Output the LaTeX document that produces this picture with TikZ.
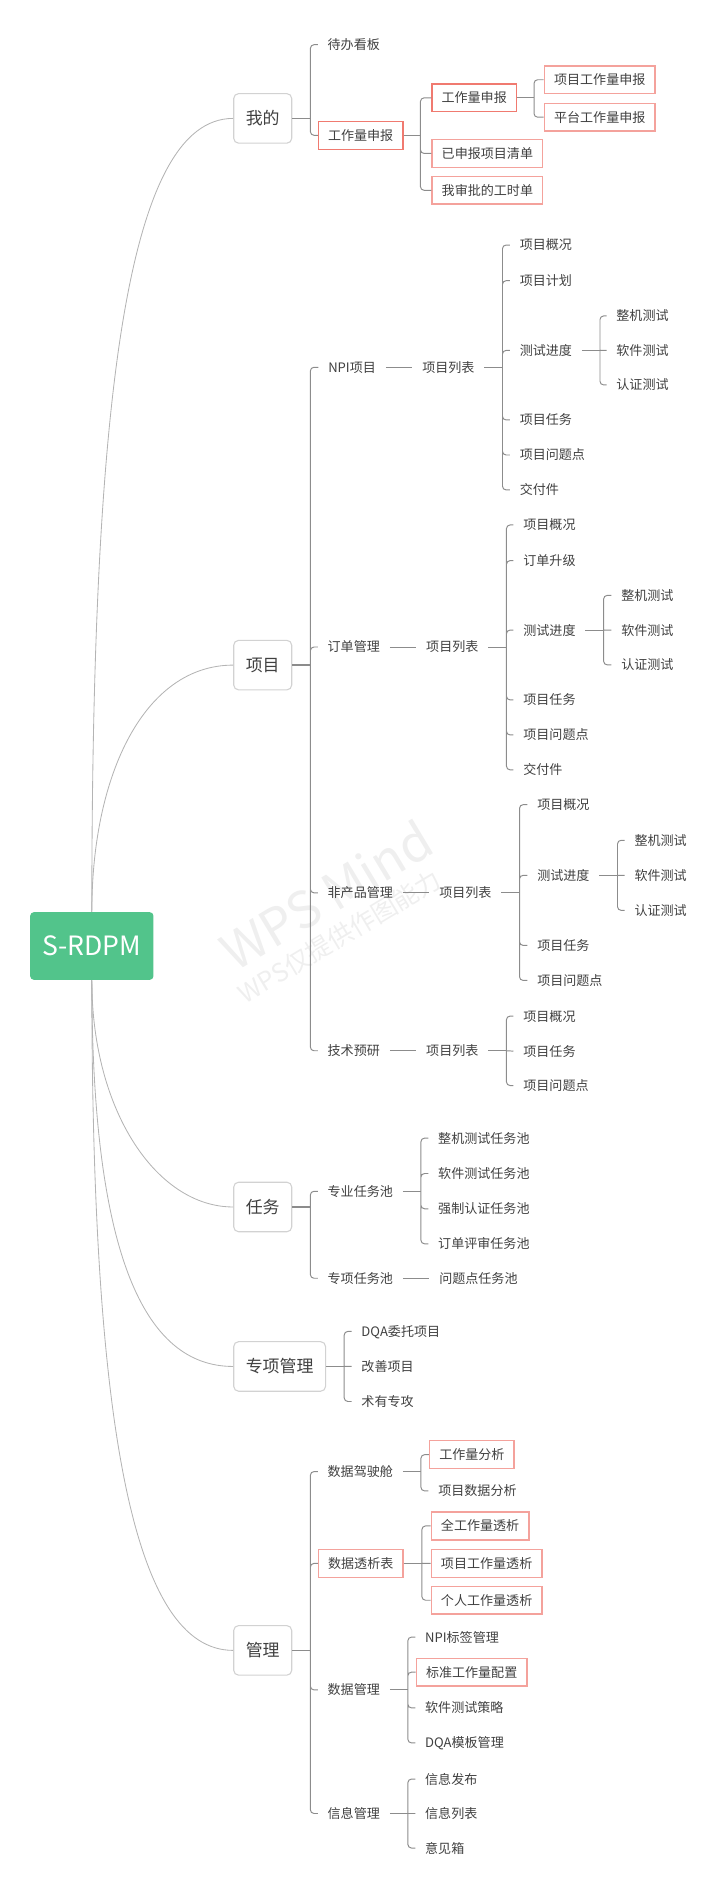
\documentclass[tikz,border=0pt]{standalone}
\usepackage{fontspec}
\setmainfont{Noto Sans CJK SC}
\usetikzlibrary{positioning}

\definecolor{rootgreen}{HTML}{52C48B}
\definecolor{topicgray}{HTML}{D2D2D2}
\definecolor{textgray}{HTML}{404040}
\definecolor{linegray}{HTML}{8C8C8C}
\definecolor{curvegray}{HTML}{B4B4B4}
\definecolor{boxpink}{HTML}{F4A29C}
\definecolor{boxred}{HTML}{F07A70}
\definecolor{wmgray}{HTML}{EFEFEF}

\begin{document}
\begin{tikzpicture}[x=1pt,y=-1pt,node distance=22pt,
  root node/.style={fill=rootgreen,rounded corners=3pt,text=white,
    font=\fontsize{22}{26}\selectfont,minimum width=102pt,minimum height=56pt,
    inner sep=0pt,text height=16pt,text depth=0pt},
  topic node/.style={draw=topicgray,line width=0.9pt,rounded corners=4pt,
    fill=white,text=textgray,font=\fontsize{14}{17}\selectfont,
    minimum height=41pt,inner xsep=10pt,text height=12.3pt,text depth=1.7pt,
    anchor=west},
  leaf node/.style={text=textgray,font=\fontsize{10.8}{13}\selectfont,
    inner xsep=8pt,inner ysep=2pt,text height=9.5pt,text depth=1.3pt,
    anchor=west},
  box node/.style={leaf node,draw=boxpink,line width=1.2pt,minimum height=23pt},
  red box node/.style={box node,draw=boxred,line width=1pt},
  branch/.style={draw=linegray,line width=0.8pt,rounded corners=3pt},
  main branch/.style={branch,line width=1.4pt},
  curve/.style={draw=curvegray,line width=0.7pt}]

  \useasboundingbox (0,0) rectangle (600,1566);

  % watermark
  \node[text=wmgray,font=\fontsize{42}{46}\selectfont,rotate=31] (wm1)
    at (270,741) {WPS Mind};
  \node[text=wmgray,font=\fontsize{21}{24}\selectfont,rotate=31] (wm2)
    at (281,775) {WPS仅提供作图能力};

  \node[root node] (root) at (76,783) {S-RDPM};

  \node[topic node] (mine) at (193,98) {我的};
  \node[topic node] (proj) at (193,550.5) {项目};
  \node[topic node] (task) at (193,999) {任务};
  \node[topic node] (spec) at (193,1131) {专项管理};
  \node[topic node] (mgmt) at (193,1366) {管理};

  % 我的
  \node[leaf node] (todo) at (263,37) {待办看板};
  \node[red box node] (report) at (263,112) {工作量申报};
  \node[red box node] (report2) at (357,81) {工作量申报};
  \node[box node] (declared) at (357,127) {已申报项目清单};
  \node[box node] (approved) at (357,157.5) {我审批的工时单};
  \node[box node] (projrep) at (450,66) {项目工作量申报};
  \node[box node] (platrep) at (450,97) {平台工作量申报};

  % 项目
  \node[leaf node] (npi) at (263.5,304) {NPI项目};
  \node[leaf node,right=of npi] (npilist) {项目列表};
  \node[leaf node] (npi1) at (422,202.8) {项目概况};
  \node[leaf node] (npi2) at (422,232.3) {项目计划};
  \node[leaf node] (npi3) at (422,290) {测试进度};
  \node[leaf node] (npi4) at (422,347.6) {项目任务};
  \node[leaf node] (npi5) at (422,376.6) {项目问题点};
  \node[leaf node] (npi6) at (422,405.5) {交付件};
  \node[leaf node] (npit1) at (502,261.5) {整机测试};
  \node[leaf node] (npit2) at (502,290) {软件测试};
  \node[leaf node] (npit3) at (502,318.6) {认证测试};

  \node[leaf node] (order) at (263,535.5) {订单管理};
  \node[leaf node,right=of order] (orderlist) {项目列表};
  \node[leaf node] (order1) at (425,434.5) {项目概况};
  \node[leaf node] (order2) at (425,464) {订单升级};
  \node[leaf node] (order3) at (425,521.5) {测试进度};
  \node[leaf node] (order4) at (425,579.3) {项目任务};
  \node[leaf node] (order5) at (425,608.3) {项目问题点};
  \node[leaf node] (order6) at (425,637.2) {交付件};
  \node[leaf node] (ordert1) at (506,492.8) {整机测试};
  \node[leaf node] (ordert2) at (506,521.5) {软件测试};
  \node[leaf node] (ordert3) at (506,550.3) {认证测试};

  \node[leaf node] (nonprod) at (263,739) {非产品管理};
  \node[leaf node,right=of nonprod] (nonprodlist) {项目列表};
  \node[leaf node] (nonprod1) at (436.5,666) {项目概况};
  \node[leaf node] (nonprod2) at (436.5,724.5) {测试进度};
  \node[leaf node] (nonprod3) at (436.5,782.5) {项目任务};
  \node[leaf node] (nonprod4) at (436.5,811.5) {项目问题点};
  \node[leaf node] (nonprodt1) at (517,695.5) {整机测试};
  \node[leaf node] (nonprodt2) at (517,724.5) {软件测试};
  \node[leaf node] (nonprodt3) at (517,753.5) {认证测试};

  \node[leaf node] (tech) at (263,869.7) {技术预研};
  \node[leaf node,right=of tech] (techlist) {项目列表};
  \node[leaf node] (tech1) at (425,841) {项目概况};
  \node[leaf node] (tech2) at (425,870) {项目任务};
  \node[leaf node] (tech3) at (425,898.5) {项目问题点};

  % 任务
  \node[leaf node] (prof) at (263,986) {专业任务池};
  \node[leaf node] (prof1) at (354.5,942) {整机测试任务池};
  \node[leaf node] (prof2) at (354.5,971.3) {软件测试任务池};
  \node[leaf node] (prof3) at (354.5,1000.5) {强制认证任务池};
  \node[leaf node] (prof4) at (354.5,1029.5) {订单评审任务池};
  \node[leaf node] (pool) at (263,1058) {专项任务池};
  \node[leaf node,right=of pool] (issue) {问题点任务池};

  % 专项管理
  \node[leaf node] (dqa) at (291,1102) {DQA委托项目};
  \node[leaf node] (improve) at (291,1131) {改善项目};
  \node[leaf node] (expert) at (291,1160) {术有专攻};

  % 管理
  \node[leaf node] (cockpit) at (263,1218) {数据驾驶舱};
  \node[box node] (workload) at (355,1204) {工作量分析};
  \node[leaf node] (projdata) at (354.6,1234) {项目数据分析};
  \node[box node] (pivot) at (263,1294) {数据透析表};
  \node[box node] (pivot1) at (356.4,1263) {全工作量透析};
  \node[box node] (pivot2) at (356.4,1294) {项目工作量透析};
  \node[box node] (pivot3) at (356.4,1324.5) {个人工作量透析};
  \node[leaf node] (datamgmt) at (263,1398.7) {数据管理};
  \node[leaf node] (data1) at (343.7,1355) {NPI标签管理};
  \node[box node] (data2) at (344,1384) {标准工作量配置};
  \node[leaf node] (data3) at (343.7,1413.6) {软件测试策略};
  \node[leaf node] (data4) at (343.7,1442.6) {DQA模板管理};
  \node[leaf node] (info) at (263,1501) {信息管理};
  \node[leaf node] (info1) at (343.7,1472.5) {信息发布};
  \node[leaf node] (info2) at (343.7,1501) {信息列表};
  \node[leaf node] (info3) at (343.7,1529.6) {意见箱};

  % curves from the root
  \draw[curve] (root.north) .. controls (76,330) and (105,98) .. (mine.west);
  \draw[curve] (root.north) .. controls (76,640) and (120,550.5) .. (proj.west);
  \draw[curve] (root.south) .. controls (76,920) and (130,999) .. (task.west);
  \draw[curve] (root.south) .. controls (76,1040) and (120,1131) .. (spec.west);
  \draw[curve] (root.south) .. controls (76,1180) and (110,1366) .. (mgmt.west);

  % 我的
  \draw[main branch] (mine.east) -- ++(15,0) coordinate (mine-b);
  \draw[branch] (mine-b) |- (todo.west) (mine-b) |- (report.west);
  \draw[branch] (report.east) -- ++(14,0) coordinate (report-b);
  \draw[branch] (report-b) |- (report2.west) (report-b) |- (declared.west)
    (report-b) |- (approved.west);
  \draw[branch] (report2.east) -- ++(14,0) coordinate (report2-b);
  \draw[branch] (report2-b) |- (projrep.west) (report2-b) |- (platrep.west);

  % 项目
  \draw[main branch] (proj.east) -- ++(15,0) coordinate (proj-b);
  \draw[branch] (proj-b) |- (npi.west) (proj-b) |- (order.west)
    (proj-b) |- (nonprod.west) (proj-b) |- (tech.west);

  \draw[branch] (npi) -- (npilist);
  \draw[branch] (npilist.east) -- ++(15,0) coordinate (npilist-b);
  \draw[branch] (npilist-b) |- (npi1.west) (npilist-b) |- (npi2.west)
    (npilist-b) |- (npi3.west) (npilist-b) |- (npi4.west)
    (npilist-b) |- (npi5.west) (npilist-b) |- (npi6.west);
  \draw[branch] (npi3.east) -- ++(15,0) coordinate (npi3-b);
  \draw[branch] (npi3-b) |- (npit1.west) (npi3-b) -- (npit2.west)
    (npi3-b) |- (npit3.west);

  \draw[branch] (order) -- (orderlist);
  \draw[branch] (orderlist.east) -- ++(15,0) coordinate (orderlist-b);
  \draw[branch] (orderlist-b) |- (order1.west) (orderlist-b) |- (order2.west)
    (orderlist-b) |- (order3.west) (orderlist-b) |- (order4.west)
    (orderlist-b) |- (order5.west) (orderlist-b) |- (order6.west);
  \draw[branch] (order3.east) -- ++(15,0) coordinate (order3-b);
  \draw[branch] (order3-b) |- (ordert1.west) (order3-b) -- (ordert2.west)
    (order3-b) |- (ordert3.west);

  \draw[branch] (nonprod) -- (nonprodlist);
  \draw[branch] (nonprodlist.east) -- ++(15,0) coordinate (nonprodlist-b);
  \draw[branch] (nonprodlist-b) |- (nonprod1.west)
    (nonprodlist-b) |- (nonprod2.west) (nonprodlist-b) |- (nonprod3.west)
    (nonprodlist-b) |- (nonprod4.west);
  \draw[branch] (nonprod2.east) -- ++(15,0) coordinate (nonprod2-b);
  \draw[branch] (nonprod2-b) |- (nonprodt1.west) (nonprod2-b) -- (nonprodt2.west)
    (nonprod2-b) |- (nonprodt3.west);

  \draw[branch] (tech) -- (techlist);
  \draw[branch] (techlist.east) -- ++(15,0) coordinate (techlist-b);
  \draw[branch] (techlist-b) |- (tech1.west) (techlist-b) -- (tech2.west)
    (techlist-b) |- (tech3.west);

  % 任务
  \draw[main branch] (task.east) -- ++(15,0) coordinate (task-b);
  \draw[branch] (task-b) |- (prof.west) (task-b) |- (pool.west);
  \draw[branch] (prof.east) -- ++(15,0) coordinate (prof-b);
  \draw[branch] (prof-b) |- (prof1.west) (prof-b) |- (prof2.west)
    (prof-b) |- (prof3.west) (prof-b) |- (prof4.west);
  \draw[branch] (pool) -- (issue);

  % 专项管理
  \draw[main branch] (spec.east) -- ++(15,0) coordinate (spec-b);
  \draw[branch] (spec-b) |- (dqa.west) (spec-b) -- (improve.west)
    (spec-b) |- (expert.west);

  % 管理
  \draw[main branch] (mgmt.east) -- ++(15,0) coordinate (mgmt-b);
  \draw[branch] (mgmt-b) |- (cockpit.west) (mgmt-b) |- (pivot.west)
    (mgmt-b) |- (datamgmt.west) (mgmt-b) |- (info.west);
  \draw[branch] (cockpit.east) -- ++(15,0) coordinate (cockpit-b);
  \draw[branch] (cockpit-b) |- (workload.west) (cockpit-b) |- (projdata.west);
  \draw[branch] (pivot.east) -- ++(15,0) coordinate (pivot-b);
  \draw[branch] (pivot-b) |- (pivot1.west) (pivot-b) -- (pivot2.west)
    (pivot-b) |- (pivot3.west);
  \draw[branch] (datamgmt.east) -- ++(15,0) coordinate (datamgmt-b);
  \draw[branch] (datamgmt-b) |- (data1.west) (datamgmt-b) |- (data2.west)
    (datamgmt-b) |- (data3.west) (datamgmt-b) |- (data4.west);
  \draw[branch] (info.east) -- ++(15,0) coordinate (info-b);
  \draw[branch] (info-b) |- (info1.west) (info-b) -- (info2.west)
    (info-b) |- (info3.west);

\end{tikzpicture}
\end{document}
